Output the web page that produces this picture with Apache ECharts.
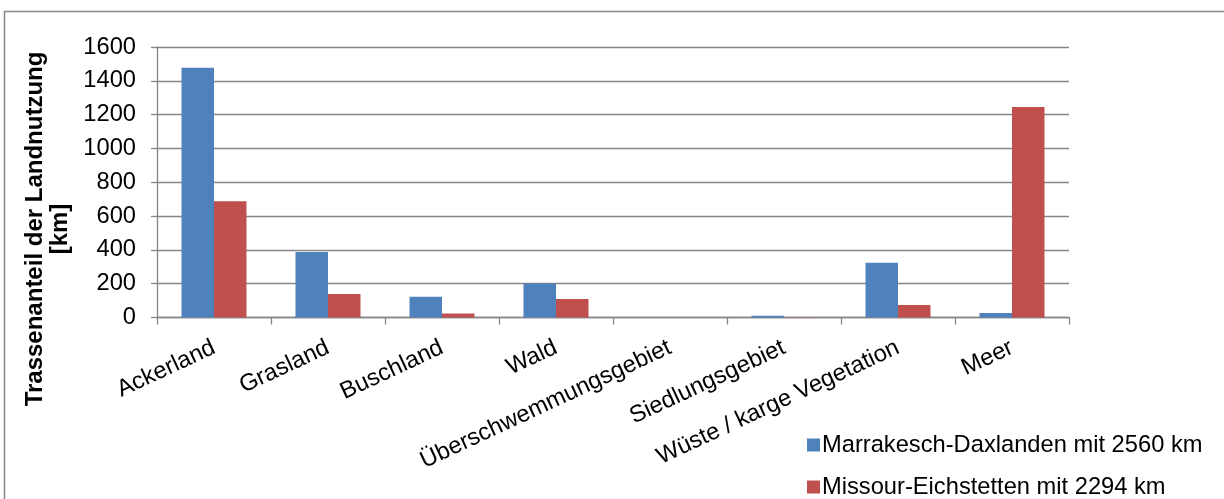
<!DOCTYPE html>
<html>
<head>
<meta charset="utf-8">
<script src="https://cdn.jsdelivr.net/npm/echarts@6/dist/echarts.min.js"></script>
<style>
  html, body { margin: 0; padding: 0; background: #ffffff; }
  #chart { width: 1224px; height: 499px; }
</style>
</head>
<body>
<div id="chart"></div>
<script>
// Land-use categories along each route (km)
const categories = [
  'Ackerland', 'Grasland', 'Buschland', 'Wald',
  'Überschwemmungsgebiet', 'Siedlungsgebiet', 'Wüste / karge Vegetation', 'Meer'
];
const seriesNames = ['Marrakesch-Daxlanden mit 2560 km', 'Missour-Eichstetten mit 2294 km'];
const marrakeschDaxlanden = [1477, 387, 123, 201, 0, 10, 324, 26];
const missourEichstetten = [687, 139, 24, 110, 0, 1, 74, 1245];
const yTicks = { min: 0, max: 1600, interval: 200 };
const yTitle = 'Trassenanteil der Landnutzung\n[km]';

const FONT = 'Liberation Sans, Arial, sans-serif';
const GRID_GRAY = '#868686';
const LABEL_SIZE = 23.7;

const chart = echarts.init(document.getElementById('chart'), null, { renderer: 'canvas' });

chart.setOption({
  backgroundColor: '#ffffff',
  animation: false,
  textStyle: { fontFamily: FONT },
  graphic: [
    {
      type: 'rect',
      shape: { x: 4.5, y: 11.5, width: 1400, height: 700 },
      style: { fill: 'none', stroke: '#898989', lineWidth: 1.5 },
      silent: true
    },
    {
      type: 'text',
      x: 48,
      y: 229,
      rotation: Math.PI / 2,
      style: {
        text: yTitle,
        font: 'bold 24px ' + FONT,
        fill: '#000000',
        align: 'center',
        verticalAlign: 'middle',
        lineHeight: 25
      },
      silent: true
    }
  ],
  legend: {
    orient: 'vertical',
    left: 802,
    top: 428,
    height: 200,
    itemWidth: 13,
    itemHeight: 13,
    itemGap: 18,
    icon: 'rect',
    textStyle: { fontSize: LABEL_SIZE, color: '#000000', fontFamily: FONT, padding: [0, 0, 0, -3] },
    data: seriesNames
  },
  grid: {
    left: 157,
    right: 155,
    top: 47,
    bottom: 181.5,
    containLabel: false
  },
  xAxis: {
    type: 'category',
    data: categories,
    axisLine: { lineStyle: { color: GRID_GRAY, width: 1.3 } },
    axisTick: { show: true, length: 7, lineStyle: { color: GRID_GRAY, width: 1.3 }, alignWithLabel: false },
    axisLabel: {
      interval: 0,
      rotate: 25,
      margin: 29,
      fontSize: LABEL_SIZE,
      color: '#000000',
      fontFamily: FONT
    }
  },
  yAxis: {
    type: 'value',
    min: yTicks.min,
    max: yTicks.max,
    interval: yTicks.interval,
    axisLine: { show: true, lineStyle: { color: GRID_GRAY, width: 1.3 } },
    axisTick: { show: true, length: 6, lineStyle: { color: GRID_GRAY, width: 1.3 } },
    splitLine: { show: true, lineStyle: { color: GRID_GRAY, width: 1.3 } },
    axisLabel: {
      margin: 21,
      fontSize: LABEL_SIZE,
      color: '#000000',
      fontFamily: FONT,
      formatter: (v) => String(v)
    }
  },
  series: [
    {
      name: seriesNames[0],
      type: 'bar',
      data: marrakeschDaxlanden,
      itemStyle: { color: '#4F81BD' },
      barGap: '0%',
      barCategoryGap: '43%'
    },
    {
      name: seriesNames[1],
      type: 'bar',
      data: missourEichstetten,
      itemStyle: { color: '#C0504D' },
      barGap: '0%',
      barCategoryGap: '43%'
    }
  ]
});
</script>
</body>
</html>
